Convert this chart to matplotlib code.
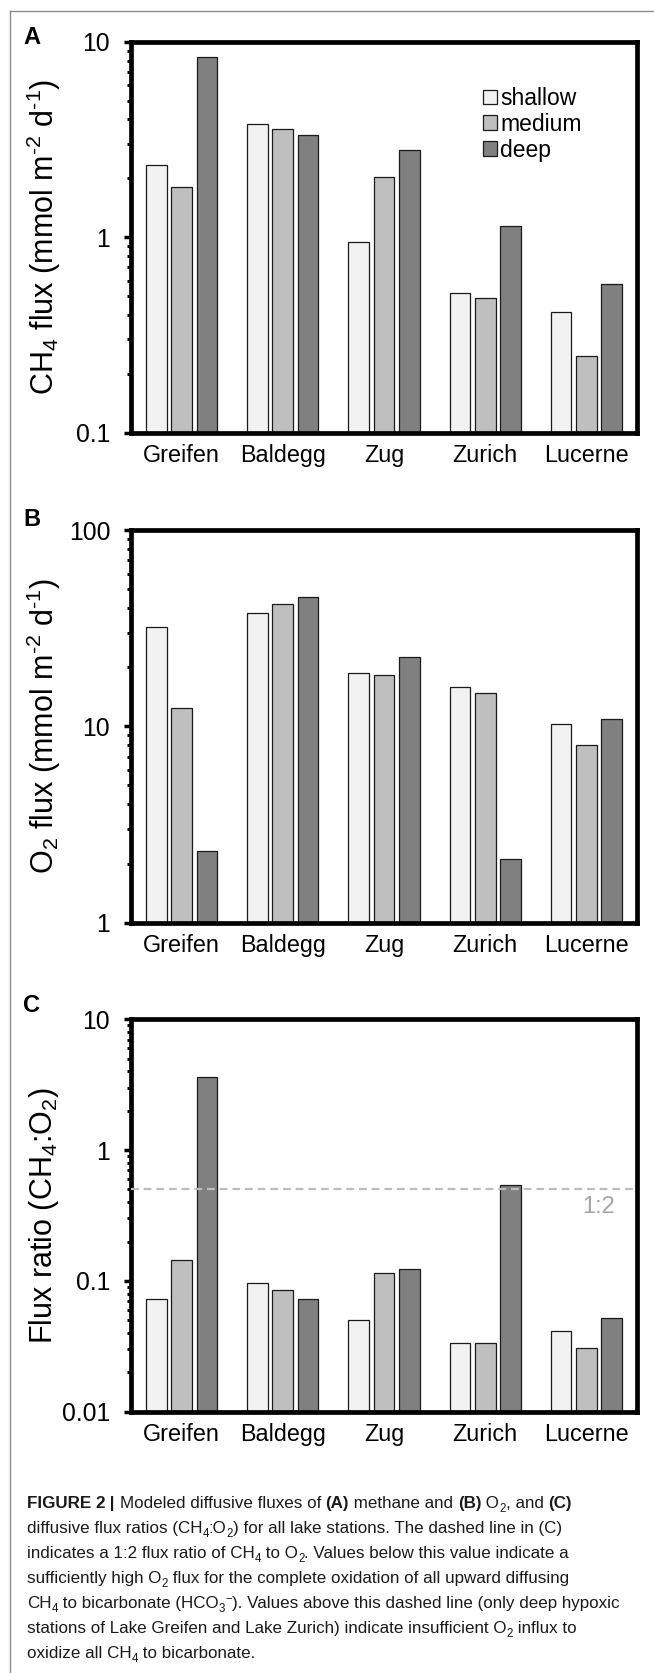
import matplotlib
matplotlib.use("Agg")
import matplotlib.pyplot as plt
from matplotlib.patches import Patch
from matplotlib.lines import Line2D
from matplotlib import font_manager as fm
from matplotlib.ticker import FixedLocator, FixedFormatter, LogLocator, NullFormatter
import matplotlib.transforms as mtransforms

# ---------------- data ----------------
lakes = ["Greifen", "Baldegg", "Zug", "Zurich", "Lucerne"]
series_names = ["shallow", "medium", "deep"]

ch4_shallow = [2.33, 3.79, 0.945, 0.518, 0.416]
ch4_medium = [1.81, 3.59, 2.03, 0.490, 0.248]
ch4_deep = [8.38, 3.32, 2.80, 1.14, 0.578]

o2_shallow = [32.2, 37.8, 18.7, 15.9, 10.25]
o2_medium = [12.45, 42.2, 18.3, 14.7, 8.04]
o2_deep = [2.31, 45.8, 22.6, 2.12, 10.87]

ratio_shallow = [0.0727, 0.0963, 0.0505, 0.0335, 0.0414]
ratio_medium = [0.145, 0.0857, 0.114, 0.0335, 0.0309]
ratio_deep = [3.64, 0.0727, 0.123, 0.538, 0.0523]

ratio_line = 0.5

a_ticks = [0.1, 1, 10]
a_ticklabels = ["0.1", "1", "10"]
b_ticks = [1, 10, 100]
b_ticklabels = ["1", "10", "100"]
c_ticks = [0.01, 0.1, 1, 10]
c_ticklabels = ["0.01", "0.1", "1", "10"]

colors = ["#f2f2f2", "#bfbfbf", "#808080"]

# ---------------- fonts ----------------
def has_font(name):
    try:
        fm.findfont(fm.FontProperties(family=name), fallback_to_default=False)
        return True
    except Exception:
        return False

main_font = "Liberation Sans" if has_font("Liberation Sans") else "DejaVu Sans"
cap_font = "Liberation Sans Narrow" if has_font("Liberation Sans Narrow") else main_font

plt.rcParams["font.family"] = [main_font, "DejaVu Sans"]
plt.rcParams["mathtext.fontset"] = "custom"
plt.rcParams["mathtext.rm"] = main_font
plt.rcParams["mathtext.it"] = main_font + ":italic"
plt.rcParams["mathtext.bf"] = main_font + ":bold"

W, H = 654, 1673
fig = plt.figure(figsize=(W / 100, H / 100), dpi=100)
fig.patch.set_facecolor("white")


def px_axes(left, top, right, bottom):
    return fig.add_axes([left / W, 1 - bottom / H, (right - left) / W, (bottom - top) / H])


def draw_panel(ax, s, m, d, ylim, ticks, ticklabels, ylabel):
    x = list(range(len(lakes)))
    offsets = [-0.25, 0.0, 0.25]
    for vals, off, col, name in zip([s, m, d], offsets, colors, series_names):
        ax.bar([xi + off for xi in x], [v - ylim[0] for v in vals], width=0.205,
               bottom=ylim[0], color=col, edgecolor="#1a1a1a", linewidth=0.9,
               label=name, zorder=2)
    ax.set_yscale("log")
    ax.set_ylim(*ylim)
    ax.set_xlim(-0.5, len(lakes) - 0.5)
    ax.yaxis.set_major_locator(FixedLocator(ticks))
    ax.yaxis.set_major_formatter(FixedFormatter(ticklabels))
    ax.yaxis.set_minor_locator(LogLocator(base=10, subs=[2, 3, 4, 5, 6, 7, 8, 9]))
    ax.yaxis.set_minor_formatter(NullFormatter())
    ax.set_xticks(x)
    ax.set_xticklabels(lakes, fontsize=16.8)
    ax.tick_params(axis="x", length=0, pad=8)
    ax.tick_params(axis="y", which="major", direction="out", length=5, width=2.5,
                   labelsize=17.8, pad=10)
    ax.tick_params(axis="y", which="minor", direction="out", length=3, width=2.2)
    for sp in ax.spines.values():
        sp.set_linewidth(3.4)
        sp.set_color("black")
    ax.set_ylabel(ylabel, fontsize=22)
    ax.yaxis.label.set_va("center")
    ax.yaxis.set_label_coords((44 - 131) / 506, 0.5)


axA = px_axes(131, 41.7, 637, 432.7)
axB = px_axes(131, 530, 637, 922.7)
axC = px_axes(131, 1019.3, 637, 1411.7)

draw_panel(axA, ch4_shallow, ch4_medium, ch4_deep, (0.1, 10), a_ticks, a_ticklabels,
           r"CH$_4$ flux (mmol m$^{\text{-}2}$ d$^{\text{-}1}$)")
draw_panel(axB, o2_shallow, o2_medium, o2_deep, (1, 100), b_ticks, b_ticklabels,
           r"O$_2$ flux (mmol m$^{\text{-}2}$ d$^{\text{-}1}$)")
draw_panel(axC, ratio_shallow, ratio_medium, ratio_deep, (0.01, 10), c_ticks, c_ticklabels,
           r"Flux ratio (CH$_4$:O$_2$)")

# legend in panel A
handles = [Patch(facecolor=c, edgecolor="#1a1a1a", linewidth=0.9) for c in colors]
leg = axA.legend(handles, series_names, loc="upper left",
                 bbox_to_anchor=((483 - 131) / 506, 1 - (87 - 41.7) / 391),
                 frameon=False, fontsize=16.5, handlelength=0.6, handleheight=0.6,
                 handletextpad=0.15, labelspacing=0.12, borderpad=0, borderaxespad=0)

# dashed 1:2 line in panel C
axC.axhline(ratio_line, color="#bdbdbd", linestyle=(0, (3.5, 2.2)), linewidth=1.6, zorder=3)
trans = mtransforms.blended_transform_factory(axC.transAxes, axC.transData)
axC.text((615 - 131) / 506, 0.37, "1:2", transform=trans, ha="right", va="center",
         fontsize=17, color="#a6a6a6")

# panel letters
for letter, yc in [("A", 38), ("B", 520), ("C", 1006)]:
    fig.text(32 / W, 1 - yc / H, letter, fontsize=17, fontweight="bold",
             ha="center", va="center")

# frame lines
fig.add_artist(Line2D([9.5 / W, 9.5 / W], [0, 1 - 11 / H], color="#8c8c8c", linewidth=1.0))
fig.add_artist(Line2D([9.5 / W, 1], [1 - 11 / H, 1 - 11 / H], color="#8c8c8c", linewidth=1.0))

# ---------------- caption ----------------
fig.canvas.draw()
renderer = fig.canvas.get_renderer()


def seg_width(text, size, weight):
    t1 = fig.text(0, 0, "|" + text + "|", fontsize=size, family=[cap_font, "DejaVu Sans"],
                  fontweight=weight)
    t2 = fig.text(0, 0, "||", fontsize=size, family=[cap_font, "DejaVu Sans"],
                  fontweight=weight)
    w = t1.get_window_extent(renderer).width - t2.get_window_extent(renderer).width
    t1.remove()
    t2.remove()
    return w


def line_width(segs, size):
    tot = 0
    for text, style in segs:
        sz = size * 0.68 if style in ("sub", "sup") else size
        wt = "bold" if style == "b" else "normal"
        tot += seg_width(text, sz, wt)
    return tot


def draw_line(x_px, y_px, segs, size):
    x = x_px
    for text, style in segs:
        sz = size * 0.68 if style in ("sub", "sup") else size
        wt = "bold" if style == "b" else "normal"
        dy = 0
        if style == "sub":
            dy = -0.22 * size * 100 / 72
        elif style == "sup":
            dy = 0.4 * size * 100 / 72
        fig.text(x / W, 1 - (y_px - dy) / H, text, fontsize=sz, fontweight=wt,
                 family=[cap_font, "DejaVu Sans"], ha="left", va="baseline", color="#1a1a1a")
        x += seg_width(text, sz, wt)


cap_lines = [
    [("FIGURE 2", "b"), (" | ", "b"), ("Modeled diffusive fluxes of ", "n"), ("(A)", "b"),
     (" methane and ", "n"), ("(B)", "b"), (" O", "n"), ("2", "sub"), (", and ", "n"), ("(C)", "b")],
    [("diffusive flux ratios (CH", "n"), ("4", "sub"), (":O", "n"), ("2", "sub"),
     (") for all lake stations. The dashed line in (C)", "n")],
    [("indicates a 1:2 flux ratio of CH", "n"), ("4", "sub"), (" to O", "n"), ("2", "sub"),
     (". Values below this value indicate a", "n")],
    [("sufficiently high O", "n"), ("2", "sub"),
     (" flux for the complete oxidation of all upward diffusing", "n")],
    [("CH", "n"), ("4", "sub"), (" to bicarbonate (HCO", "n"), ("3", "sub"), ("\u2212", "sup"),
     ("). Values above this dashed line (only deep hypoxic", "n")],
    [("stations of Lake Greifen and Lake Zurich) indicate insufficient O", "n"), ("2", "sub"),
     (" influx to", "n")],
    [("oxidize all CH", "n"), ("4", "sub"), (" to bicarbonate.", "n")],
]
base_size = 13.4
widest = max(line_width(segs, base_size) for segs in cap_lines)
cap_size = base_size * 590.0 / widest if widest > 0 else base_size
cap_size = max(9.0, min(cap_size, 14.5))

baselines = [1508, 1533, 1558, 1583, 1608, 1633, 1658]
for segs, yb in zip(cap_lines, baselines):
    draw_line(27, yb, segs, cap_size)

fig.savefig("out.png", dpi=100)
